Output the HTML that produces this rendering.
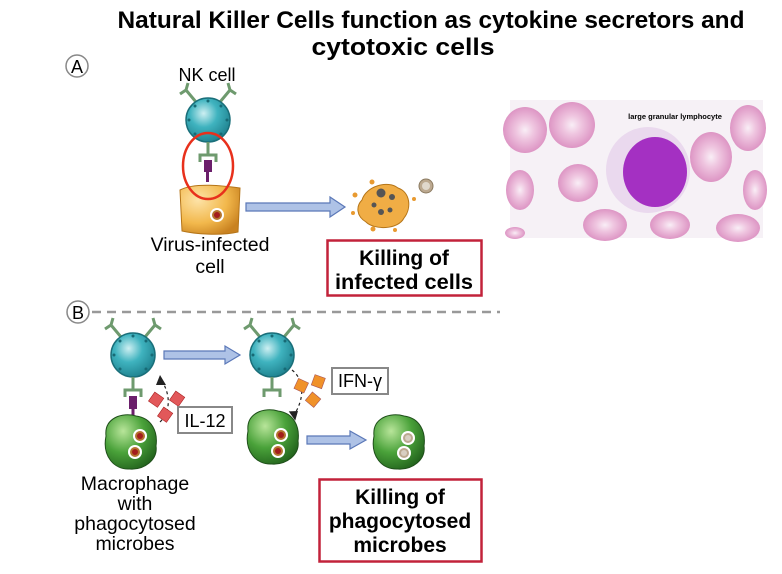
<!DOCTYPE html>
<html><head><meta charset="utf-8"><style>
html,body{margin:0;padding:0;background:#fff;}
svg{display:block;font-family:"Liberation Sans",sans-serif;}
</style></head><body>
<svg width="782" height="574" viewBox="0 0 782 574" xmlns="http://www.w3.org/2000/svg">
<defs>
<radialGradient id="teal" cx="0.4" cy="0.35" r="0.7"><stop offset="0" stop-color="#cdeff2"/><stop offset="0.45" stop-color="#3fb3bf"/><stop offset="1" stop-color="#1d7f8c"/></radialGradient>
<radialGradient id="green" cx="0.35" cy="0.3" r="0.8"><stop offset="0" stop-color="#b8e59a"/><stop offset="0.5" stop-color="#4aa23a"/><stop offset="1" stop-color="#1f5e1a"/></radialGradient>
<radialGradient id="orange" cx="0.3" cy="0.3" r="0.8"><stop offset="0" stop-color="#fde3a8"/><stop offset="0.6" stop-color="#f2b84c"/><stop offset="1" stop-color="#c98220"/></radialGradient>
<radialGradient id="rbcg" cx="0.5" cy="0.5" r="0.5"><stop offset="0" stop-color="#f9eef6"/><stop offset="0.4" stop-color="#efc6e0"/><stop offset="1" stop-color="#dd95c4"/></radialGradient>
<g id="nk">
  <path d="M-12,-18 L-22,-30 M-22,-30 L-28,-26 M-22,-30 L-20,-37 M12,-18 L22,-30 M22,-30 L28,-26 M22,-30 L20,-37" stroke="#6e9a6e" stroke-width="3" fill="none"/>
  <circle r="22" fill="url(#teal)" stroke="#1a6f7a" stroke-width="1.5"/>
  <g fill="#176a75"><circle cx="0" cy="-19" r="1.5"/><circle cx="13" cy="-14" r="1.5"/><circle cx="19" cy="0" r="1.5"/><circle cx="13" cy="14" r="1.5"/><circle cx="-13" cy="14" r="1.5"/><circle cx="-19" cy="0" r="1.5"/><circle cx="-13" cy="-14" r="1.5"/></g>
</g>
<g id="mac">
  <path d="M-24,-6 C-26,-24 -8,-30 6,-26 C22,-24 28,-10 26,4 C28,18 14,28 0,27 C-16,28 -28,14 -24,-6Z" fill="url(#green)" stroke="#1f4f1a" stroke-width="1"/>
</g>
<g id="mic"><circle r="7" fill="#fff"/><circle r="5" fill="#b3742e"/><circle r="3" fill="#a31d1d"/></g>
<g id="micd"><circle r="7" fill="#fff"/><circle r="5" fill="#bca990"/><circle r="3" fill="#d8cfc2"/></g>
</defs>

<text x="431" y="28" font-size="24" font-weight="bold" text-anchor="middle" textLength="627" lengthAdjust="spacingAndGlyphs">Natural Killer Cells function as cytokine secretors and</text>
<text x="403" y="55" font-size="24" font-weight="bold" text-anchor="middle" textLength="183" lengthAdjust="spacingAndGlyphs">cytotoxic cells</text>

<!-- A -->
<circle cx="77" cy="66" r="11" fill="#fff" stroke="#888" stroke-width="1.5"/>
<text x="77" y="73" font-size="18" text-anchor="middle">A</text>
<text x="207" y="81" font-size="18" text-anchor="middle">NK cell</text>
<use href="#nk" x="208" y="120"/>
<path d="M208,142 L208,155 M200,162 L200,155 L216,155 L216,162" stroke="#6e9a6e" stroke-width="3" fill="none"/>
<rect x="204" y="160" width="8" height="12" fill="#6b1f6b"/><rect x="206" y="170" width="3" height="12" fill="#6b1f6b"/>
<path d="M180,190 C195,182 225,186 240,188 L238,232 C220,236 195,234 182,231 Z" fill="url(#orange)" stroke="#b57518" stroke-width="1"/>
<use href="#mic" x="217" y="215"/>
<ellipse cx="208" cy="166" rx="25" ry="33" fill="none" stroke="#e8301c" stroke-width="2.5"/>
<text x="210" y="251" font-size="19.5" text-anchor="middle">Virus-infected</text>
<text x="210" y="273" font-size="19.5" text-anchor="middle">cell</text>
<path d="M246,203 L330,203 L330,197 L345,207 L330,217 L330,211 L246,211Z" fill="#aec2e6" stroke="#5b78b8" stroke-width="1.2"/>
<path d="M362,200 C366,186 388,180 398,188 C410,192 412,208 404,218 C398,230 374,230 366,222 C356,216 356,206 362,200Z" fill="#f0ad45" stroke="#b57518"/>
<g fill="#e89a30"><circle cx="355" cy="195" r="2.5"/><circle cx="414" cy="199" r="2"/><circle cx="373" cy="229" r="2.5"/><circle cx="395" cy="230" r="2"/><circle cx="353" cy="213" r="2"/><circle cx="372" cy="182" r="2.5"/></g>
<g fill="#555"><circle cx="381" cy="193" r="4.5"/><circle cx="392" cy="197" r="3"/><circle cx="374" cy="205" r="2.5"/><circle cx="381" cy="212" r="3"/><circle cx="390" cy="210" r="2.5"/></g>
<circle cx="426" cy="186" r="7" fill="#bca990" stroke="#8b7a60"/><circle cx="426" cy="186" r="4" fill="#e0d8cc"/>
<rect x="327.5" y="240.5" width="154" height="55" fill="#fff" stroke="#c2223a" stroke-width="2.5"/>
<text x="404" y="265" font-size="21" font-weight="bold" text-anchor="middle">Killing of</text>
<text x="404" y="289" font-size="21" font-weight="bold" text-anchor="middle" textLength="138" lengthAdjust="spacingAndGlyphs">infected cells</text>

<!-- photo -->
<rect x="510" y="100" width="253" height="138" fill="#f6f1f6"/>
<g fill="url(#rbcg)">
<ellipse cx="525" cy="130" rx="22" ry="23"/><ellipse cx="572" cy="125" rx="23" ry="23"/>
<ellipse cx="578" cy="183" rx="20" ry="19"/><ellipse cx="520" cy="190" rx="14" ry="20"/>
<ellipse cx="605" cy="225" rx="22" ry="16"/><ellipse cx="670" cy="225" rx="20" ry="14"/>
<ellipse cx="711" cy="157" rx="21" ry="25"/><ellipse cx="748" cy="128" rx="18" ry="23"/>
<ellipse cx="755" cy="190" rx="12" ry="20"/><ellipse cx="738" cy="228" rx="22" ry="14"/>
<ellipse cx="515" cy="233" rx="10" ry="6"/>
</g>
<ellipse cx="648" cy="170" rx="42" ry="43" fill="#ead9ee"/>
<ellipse cx="655" cy="172" rx="32" ry="35" fill="#a430c2"/>
<text x="675" y="119" font-size="7.5" font-weight="bold" text-anchor="middle">large granular lymphocyte</text>

<!-- B -->
<line x1="92" y1="312" x2="500" y2="312" stroke="#999" stroke-width="2.5" stroke-dasharray="9,6"/>
<circle cx="78" cy="312" r="11" fill="#fff" stroke="#888" stroke-width="1.5"/>
<text x="78" y="319" font-size="18" text-anchor="middle">B</text>
<use href="#nk" x="133" y="355"/>
<path d="M133,377 L133,390 M125,397 L125,390 L141,390 L141,397" stroke="#6e9a6e" stroke-width="3" fill="none"/>
<rect x="129" y="396" width="8" height="13" fill="#6b1f6b"/><rect x="131.5" y="408" width="3" height="10" fill="#6b1f6b"/>
<use href="#mac" x="130" y="442"/>
<use href="#mic" x="140" y="436"/><use href="#mic" x="135" y="452"/>
<path d="M164,351 L225,351 L225,346 L240,355 L225,364 L225,359 L164,359Z" fill="#aec2e6" stroke="#5b78b8" stroke-width="1.2"/>
<path d="M160,422 C172,410 170,392 160,378" stroke="#222" stroke-width="1.2" fill="none" stroke-dasharray="3,3"/>
<path d="M156,385 L160,375 L166,385Z" fill="#222"/>
<g fill="#e2585a" stroke="#a22" stroke-width="0.6">
<rect x="151" y="394" width="11" height="11" transform="rotate(35 156 399)"/>
<rect x="172" y="393" width="11" height="11" transform="rotate(35 177 398)"/>
<rect x="160" y="409" width="11" height="11" transform="rotate(35 165 414)"/>
</g>
<rect x="178" y="407" width="54" height="26" fill="#fff" stroke="#888" stroke-width="2"/>
<text x="205" y="427" font-size="18" text-anchor="middle">IL-12</text>

<use href="#nk" x="272" y="355"/>
<path d="M272,377 L272,390 M264,397 L264,390 L280,390 L280,397" stroke="#6e9a6e" stroke-width="3" fill="none"/>
<path d="M292,370 C305,380 305,400 292,418" stroke="#222" stroke-width="1.2" fill="none" stroke-dasharray="3,3"/>
<path d="M288,412 L296,420 L297,410Z" fill="#222" transform="rotate(10 292 416)"/>
<g fill="#f0922a" stroke="#a55" stroke-width="0.6">
<rect x="296" y="380" width="11" height="11" transform="rotate(25 301 385)"/>
<rect x="313" y="376" width="11" height="11" transform="rotate(20 318 381)"/>
<rect x="308" y="394" width="11" height="11" transform="rotate(40 313 399)"/>
</g>
<rect x="332" y="368" width="56" height="26" fill="#fff" stroke="#888" stroke-width="2"/>
<text x="360" y="387" font-size="18" text-anchor="middle">IFN-γ</text>
<use href="#mac" x="272" y="437"/>
<use href="#mic" x="281" y="435"/><use href="#mic" x="278" y="451"/>
<path d="M307,436 L350,436 L350,431 L366,440 L350,449 L350,444 L307,444Z" fill="#aec2e6" stroke="#5b78b8" stroke-width="1.2"/>
<use href="#mac" x="398" y="442"/>
<use href="#micd" x="408" y="438"/><use href="#micd" x="404" y="453"/>

<text x="135" y="490" font-size="19.5" text-anchor="middle">Macrophage</text>
<text x="135" y="510" font-size="19.5" text-anchor="middle">with</text>
<text x="135" y="530" font-size="19.5" text-anchor="middle">phagocytosed</text>
<text x="135" y="550" font-size="19.5" text-anchor="middle">microbes</text>

<rect x="319.5" y="479.5" width="162" height="82" fill="#fff" stroke="#c2223a" stroke-width="2.5"/>
<text x="400" y="504" font-size="21" font-weight="bold" text-anchor="middle">Killing of</text>
<text x="400" y="528" font-size="21" font-weight="bold" text-anchor="middle">phagocytosed</text>
<text x="400" y="552" font-size="21" font-weight="bold" text-anchor="middle">microbes</text>
</svg>
</body></html>
